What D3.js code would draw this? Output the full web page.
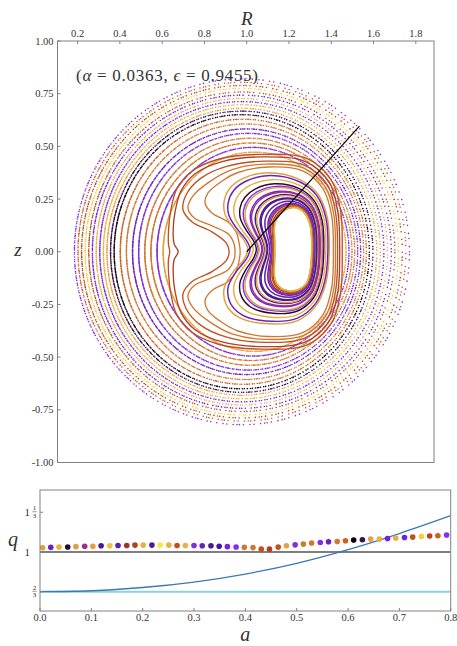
<!DOCTYPE html>
<html>
<head>
<meta charset="utf-8">
<script src="https://cdn.jsdelivr.net/npm/d3@7"></script>
<style>
  body { margin: 0; background: #fff; }
  svg { display: block; }
  text { font-family: "Liberation Serif", "DejaVu Serif", "Times New Roman", serif; fill: #333; }
</style>
</head>
<body>
<svg id="chart" width="457" height="646" font-family="Liberation Serif, DejaVu Serif, serif"></svg>
<script>
// ---------------- data ----------------
// seed positions a along the launch ray, safety factor q and colour of each traced field line
const seedA = [0.005,0.021,0.037,0.054,0.070,0.087,0.103,0.119,0.136,0.152,0.169,0.185,0.201,0.218,0.234,0.251,0.267,0.283,0.300,0.316,0.333,0.349,0.365,0.382,0.398,0.415,0.431,0.447,0.464,0.480,0.497,0.513,0.529,0.546,0.562,0.579,0.595,0.611,0.628,0.644,0.661,0.677,0.693,0.710,0.726,0.743,0.759,0.775,0.792];
const seedQ = [1.036,1.039,1.042,1.042,1.045,1.048,1.048,1.052,1.052,1.055,1.055,1.058,1.058,1.058,1.058,1.058,1.055,1.055,1.055,1.052,1.052,1.048,1.045,1.042,1.039,1.037,1.024,1.024,1.041,1.052,1.060,1.066,1.075,1.080,1.086,1.088,1.094,1.100,1.103,1.108,1.108,1.113,1.117,1.122,1.125,1.130,1.134,1.136,1.142];
const seedColor = ["#e0a040","#6a20c0","#e8b040","#2a0a30","#e0a040","#a03080","#e0a040","#4a1890","#f0c040","#5a20b0",
                   "#a03030","#b04020","#e8b040","#5018a0","#f8e840","#e8b040","#c05020","#e8b040","#8030e0","#6a20c0",
                   "#4a1890","#4a1890","#7a20e0","#8030f0","#d07830","#d07830","#c05020","#b04020","#c05020","#e8a040",
                   "#8030e0","#d07830","#d07830","#8030e0","#6a20c0","#d07830","#d06020","#100010","#3a1050","#e8a040",
                   "#e8b040","#7020e0","#e8b040","#7020e0","#c05020","#f0d040","#c04020","#d06020","#8030f0"];

// launch ray: starts at (R, z) = (1, 0), angle in degrees, length = max a
const rayStart = [1.0, 0.0];
const rayAngleDeg = 48.2;
const rayLength = 0.8;

// surfaces 0..23 wrap the core: core boundary and outer kidney outline, (R, z)
const coreOutline = [[1.306,0.014],[1.301,0.114],[1.277,0.176],[1.240,0.205],[1.200,0.203],[1.172,0.186],[1.152,0.163],[1.139,0.137],[1.135,0.110],[1.135,0.076],[1.135,0.043],[1.135,0.014],[1.135,-0.019],[1.135,-0.057],[1.135,-0.095],[1.137,-0.125],[1.150,-0.155],[1.180,-0.178],[1.235,-0.180],[1.282,-0.147],[1.301,-0.076]];
const kidneyOutline = [[1.396,0.010],[1.386,0.167],[1.340,0.280],[1.254,0.350],[1.096,0.386],[0.969,0.357],[0.906,0.310],[0.878,0.247],[0.882,0.184],[0.922,0.120],[0.977,0.057],[0.998,0.010],[0.977,-0.038],[0.922,-0.100],[0.878,-0.180],[0.889,-0.260],[0.954,-0.323],[1.078,-0.351],[1.238,-0.337],[1.333,-0.260],[1.380,-0.148]];

// surfaces 24..28 near the separatrix: upper half outlines (mirrored below)
const sepOutlines = [
  [[1.410,0],[1.402,0.170],[1.362,0.297],[1.265,0.384],[1.101,0.402],[0.959,0.376],[0.884,0.336],[0.817,0.279],[0.803,0.231],[0.836,0.184],[0.912,0.141],[0.950,0.094],[0.964,0.042],[0.969,0]],
  [[1.420,0],[1.412,0.176],[1.372,0.308],[1.270,0.397],[1.092,0.416],[0.931,0.390],[0.827,0.334],[0.746,0.265],[0.722,0.208],[0.751,0.161],[0.836,0.123],[0.912,0.085],[0.940,0.038],[0.945,0]],
  [[1.430,0],[1.421,0.182],[1.381,0.318],[1.274,0.410],[1.085,0.430],[0.905,0.405],[0.782,0.348],[0.713,0.269],[0.699,0.198],[0.742,0.141],[0.836,0.094],[0.903,0.042],[0.917,0]],
  [[1.440,0],[1.431,0.190],[1.390,0.330],[1.278,0.428],[1.076,0.450],[0.884,0.428],[0.756,0.370],[0.690,0.290],[0.661,0.189],[0.652,0.094],[0.657,0.037],[0.676,0]],
  [[1.452,0],[1.444,0.196],[1.400,0.340],[1.286,0.442],[1.070,0.462],[0.870,0.440],[0.738,0.380],[0.668,0.296],[0.640,0.190],[0.630,0.095],[0.630,0.035],[0.636,0]]
];

// surfaces 29..48: inboard and outboard midplane crossings R (z = 0)
const ringInner = [0.605,0.576,0.547,0.518,0.489,0.460,0.431,0.402,0.373,0.356,0.339,0.322,0.305,0.288,0.270,0.253,0.236,0.219,0.202,0.185];
const ringOuter = [1.470,1.484,1.498,1.511,1.525,1.539,1.553,1.566,1.580,1.597,1.615,1.632,1.649,1.666,1.684,1.701,1.718,1.736,1.753,1.770];

// q-profile curve and reference levels
const curveA = [0.0,0.1,0.2,0.3,0.4,0.5,0.6,0.7,0.8];
const curveQ = [0.667,0.675,0.702,0.748,0.815,0.905,1.020,1.155,1.305];
const qLevelOne = 1.0;
const qLevelTwoThirds = 2/3;

const rTicks = [0.2,0.4,0.6,0.8,1.0,1.2,1.4,1.6,1.8];
const zTicks = [1.0,0.75,0.5,0.25,0.0,-0.25,-0.5,-0.75,-1.0];
const aTicks = [0.0,0.1,0.2,0.3,0.4,0.5,0.6,0.7,0.8];

// ---------------- layout ----------------
const svg = d3.select("#chart");
const frameColor = "#808080";

const boxP = {left: 57.5, right: 434, top: 41, bottom: 462.5};
const xR = d3.scaleLinear().domain([0.105, 1.886]).range([boxP.left, boxP.right]);
const yZ = d3.scaleLinear().domain([-1, 1]).range([boxP.bottom, boxP.top]);

const boxQ = {left: 40, right: 450.7, top: 490, bottom: 611};
const xA = d3.scaleLinear().domain([0, 0.8]).range([boxQ.left, boxQ.right]);
const yQ = d3.scaleLinear().domain([0.505, 1.52]).range([boxQ.bottom, boxQ.top]);

const defs = svg.append("defs");
defs.append("clipPath").attr("id", "clipTop").append("rect")
  .attr("x", boxP.left).attr("y", boxP.top).attr("width", boxP.right - boxP.left).attr("height", boxP.bottom - boxP.top);
defs.append("clipPath").attr("id", "clipBot").append("rect")
  .attr("x", boxQ.left).attr("y", boxQ.top).attr("width", boxQ.right - boxQ.left).attr("height", boxQ.bottom - boxQ.top);

// ---------------- Poincaré section ----------------
const gP = svg.append("g").attr("clip-path", "url(#clipTop)");
const rad = rayAngleDeg * Math.PI / 180;
const seedPt = a => [rayStart[0] + a * Math.cos(rad), rayStart[1] + a * Math.sin(rad)];

function lerpShape(A, B, s) {
  return A.map((p, i) => [p[0] + (B[i][0] - p[0]) * s, p[1] + (B[i][1] - p[1]) * s]);
}
function insidePoly(pt, poly) {
  let c = false;
  for (let i = 0, j = poly.length - 1; i < poly.length; j = i++) {
    const [xi, yi] = poly[i], [xj, yj] = poly[j];
    if (((yi > pt[1]) !== (yj > pt[1])) && (pt[0] < (xj - xi) * (pt[1] - yi) / (yj - yi) + xi)) c = !c;
  }
  return c;
}
// level s in [0,1] of the nested kidney surface passing through a point
function kidneyLevel(pt) {
  let lo = 0, hi = 1;
  for (let k = 0; k < 30; k++) {
    const mid = (lo + hi) / 2;
    if (insidePoly(pt, lerpShape(coreOutline, kidneyOutline, mid))) hi = mid; else lo = mid;
  }
  return (lo + hi) / 2;
}
const closedLine = d3.line().x(d => xR(d[0])).y(d => yZ(d[1])).curve(d3.curveCatmullRomClosed.alpha(0.5));

// outer surfaces (29..48): punctures, denser on the inboard side
ringInner.forEach((Rin, k) => {
  const i = 29 + k;
  const Rout = ringOuter[k];
  const c = (Rin + Rout) / 2, w = (Rout - Rin) / 2;
  const [Rs, zs] = seedPt(seedA[i]);
  const h = zs / Math.sqrt(Math.max(0.05, 1 - ((Rs - c) / w) ** 2));
  const n = Math.round(560 - k * 15);
  const pts = d3.range(n).map(m => {
    const u = 2 * Math.PI * ((m * 0.6180339887 + k * 0.137) % 1);
    const th = u + 0.5 * Math.sin(u);
    return [c + w * Math.cos(th), h * Math.sin(th)];
  });
  gP.append("g").selectAll("circle").data(pts).join("circle")
    .attr("cx", d => xR(d[0])).attr("cy", d => yZ(d[1]))
    .attr("r", 0.8).attr("fill", seedColor[i]);
});

// separatrix-region surfaces (24..28)
sepOutlines.forEach((half, k) => {
  const i = 24 + k;
  const full = half.concat(half.slice(1, -1).reverse().map(p => [p[0], -p[1]]));
  gP.append("path")
    .attr("d", closedLine(full))
    .attr("fill", "none")
    .attr("stroke", seedColor[i])
    .attr("stroke-width", 1.35);
});

// kidney surfaces (0..23), drawn outer first
const kidneyIdx = d3.range(0, 24).map(i => ({i, s: kidneyLevel(seedPt(seedA[i]))}))
  .sort((p, q) => q.s - p.s);
kidneyIdx.forEach(({i, s}) => {
  gP.append("path")
    .attr("d", closedLine(lerpShape(coreOutline, kidneyOutline, s)))
    .attr("fill", "none")
    .attr("stroke", seedColor[i])
    .attr("stroke-width", 1.45);
});

// launch ray
const rayEnd = seedPt(rayLength);
gP.append("line")
  .attr("x1", xR(rayStart[0])).attr("y1", yZ(rayStart[1]))
  .attr("x2", xR(rayEnd[0])).attr("y2", yZ(rayEnd[1]))
  .attr("stroke", "#000").attr("stroke-width", 1.2);

// frame and axes of the section
svg.append("rect").attr("x", boxP.left).attr("y", boxP.top)
  .attr("width", boxP.right - boxP.left).attr("height", boxP.bottom - boxP.top)
  .attr("fill", "none").attr("stroke", frameColor).attr("stroke-width", 1);

rTicks.forEach(t => {
  svg.append("line").attr("x1", xR(t)).attr("x2", xR(t)).attr("y1", boxP.top).attr("y2", boxP.top + 3)
    .attr("stroke", frameColor);
  svg.append("text").attr("x", xR(t)).attr("y", 37).attr("text-anchor", "middle")
    .attr("font-size", 10.5).text(d3.format(".1f")(t));
});
zTicks.forEach(t => {
  svg.append("line").attr("x1", boxP.left).attr("x2", boxP.left + 3).attr("y1", yZ(t)).attr("y2", yZ(t))
    .attr("stroke", frameColor);
  svg.append("text").attr("x", 53.5).attr("y", yZ(t) + 3.6).attr("text-anchor", "end")
    .attr("font-size", 10.5).text(d3.format(".2f")(t).replace("−", "-"));
});
svg.append("text").attr("x", xR(1.0)).attr("y", 25).attr("text-anchor", "middle")
  .attr("font-size", 19).attr("font-style", "italic").attr("fill", "#222").text("R");
svg.append("text").attr("x", 18).attr("y", 256).attr("text-anchor", "middle")
  .attr("font-size", 19).attr("font-style", "italic").attr("fill", "#222").text("z");

const ann = svg.append("text").attr("x", 76).attr("y", 81).attr("font-size", 17)
  .attr("fill", "#222").attr("textLength", 182).attr("lengthAdjust", "spacing");
ann.append("tspan").text("(");
ann.append("tspan").attr("font-style", "italic").text("α");
ann.append("tspan").text(" = 0.0363, ");
ann.append("tspan").attr("font-style", "italic").text("ϵ");
ann.append("tspan").text(" = 0.9455)");

// ---------------- q profile panel ----------------
const gQ = svg.append("g").attr("clip-path", "url(#clipBot)");
gQ.append("line").attr("x1", boxQ.left).attr("x2", boxQ.right)
  .attr("y1", yQ(qLevelTwoThirds)).attr("y2", yQ(qLevelTwoThirds))
  .attr("stroke", "#8fd2d2").attr("stroke-width", 2.2);
gQ.append("line").attr("x1", boxQ.left).attr("x2", boxQ.right)
  .attr("y1", yQ(qLevelOne)).attr("y2", yQ(qLevelOne))
  .attr("stroke", "#000").attr("stroke-width", 1.2);
gQ.append("path")
  .datum(curveA.map((a, k) => [a, curveQ[k]]))
  .attr("d", d3.line().x(d => xA(d[0])).y(d => yQ(d[1])).curve(d3.curveMonotoneX))
  .attr("fill", "none").attr("stroke", "#3b78b6").attr("stroke-width", 1.3);
gQ.selectAll("circle.seed").data(seedA).join("circle").attr("class", "seed")
  .attr("cx", d => xA(d)).attr("cy", (d, k) => yQ(seedQ[k]))
  .attr("r", 2.8).attr("fill", (d, k) => seedColor[k]);

svg.append("rect").attr("x", boxQ.left).attr("y", boxQ.top)
  .attr("width", boxQ.right - boxQ.left).attr("height", boxQ.bottom - boxQ.top)
  .attr("fill", "none").attr("stroke", frameColor).attr("stroke-width", 1);

aTicks.forEach(t => {
  svg.append("line").attr("x1", xA(t)).attr("x2", xA(t)).attr("y1", boxQ.bottom).attr("y2", boxQ.bottom - 3)
    .attr("stroke", frameColor);
  svg.append("text").attr("x", xA(t)).attr("y", 621).attr("text-anchor", "middle")
    .attr("font-size", 10.5).text(d3.format(".1f")(t));
});
[4/3, 1, 2/3].forEach(t => {
  svg.append("line").attr("x1", boxQ.left).attr("x2", boxQ.left + 3).attr("y1", yQ(t)).attr("y2", yQ(t))
    .attr("stroke", frameColor);
});
// mixed-number and fraction tick labels
function fraction(x, y, num, den) {
  svg.append("text").attr("x", x).attr("y", y - 2).attr("text-anchor", "middle").attr("font-size", 7).text(num);
  svg.append("line").attr("x1", x - 2.2).attr("x2", x + 2.2).attr("y1", y - 0.5).attr("y2", y - 0.5)
    .attr("stroke", "#333").attr("stroke-width", 0.5);
  svg.append("text").attr("x", x).attr("y", y + 5.5).attr("text-anchor", "middle").attr("font-size", 7).text(den);
}
svg.append("text").attr("x", 30).attr("y", yQ(4/3) + 4).attr("text-anchor", "end").attr("font-size", 11).text("1");
fraction(34.5, yQ(4/3), "1", "3");
svg.append("text").attr("x", 30).attr("y", yQ(1) + 4).attr("text-anchor", "end").attr("font-size", 11).text("1");
fraction(34.5, yQ(2/3), "2", "3");

svg.append("text").attr("x", xA(0.4)).attr("y", 641).attr("text-anchor", "middle")
  .attr("font-size", 20).attr("font-style", "italic").attr("fill", "#222").text("a");
svg.append("text").attr("x", 13).attr("y", 546).attr("text-anchor", "middle")
  .attr("font-size", 20).attr("font-style", "italic").attr("fill", "#222").text("q");
</script>
</body>
</html>
